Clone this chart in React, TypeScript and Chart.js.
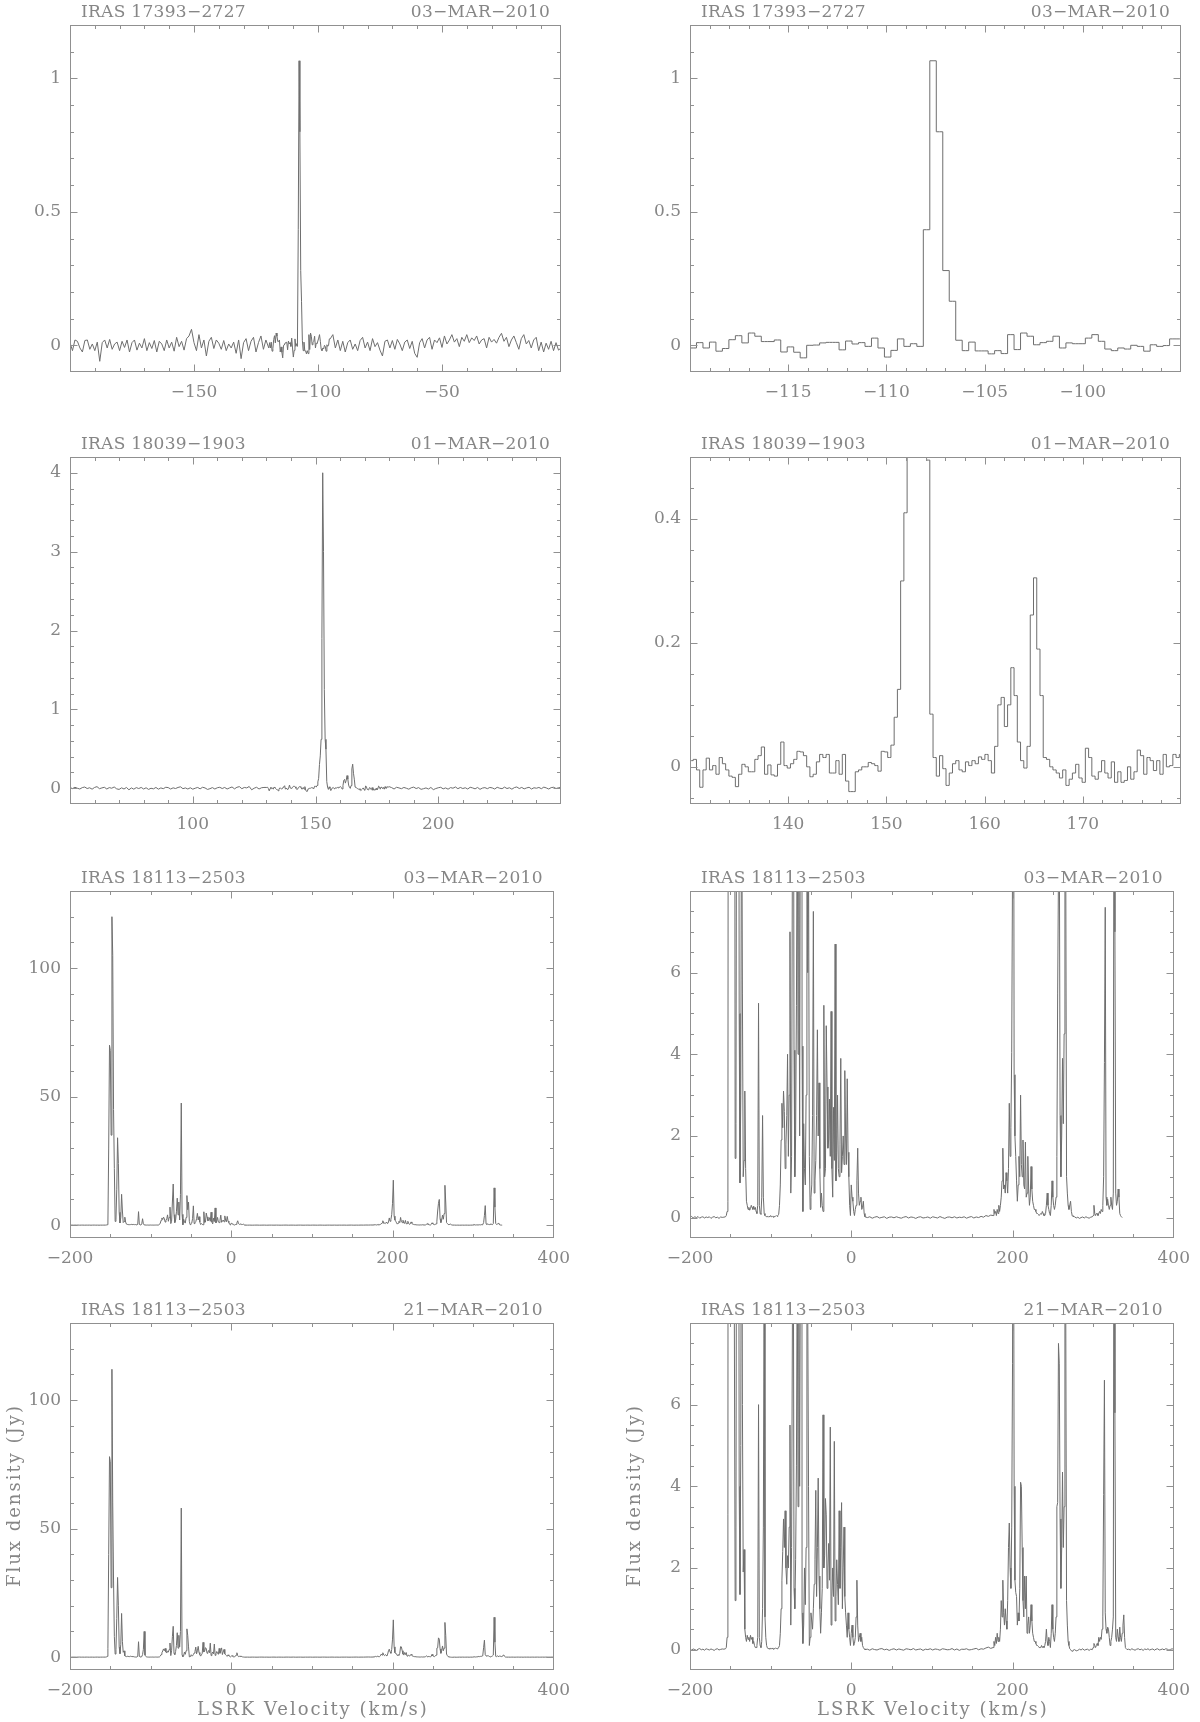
import React, { useEffect, useRef } from 'react';
import { Chart, registerables } from 'chart.js';

Chart.register(...registerables);

// ---------------- styles ----------------
const LINE_COLOR = '#6e6e6e';
const AXIS_COLOR = '#909090';
const TEXT_COLOR = '#868686';
const FONT_FAMILY = "'DejaVu Serif', serif";

// ---------------- data ----------------
// Row 1: IRAS 17393-2727, 03-MAR-2010  (flux density in Jy)
const R1_LO_START = -200; // 1 km/s step
const R1_LO = [
  0.01, -0.02, 0.02, 0.015, -0.01, -0.025, 0.018, 0.02, -0.015, 0.005,
  -0.02, 0.012, -0.06, 0.01, 0.02, -0.01, 0.022, -0.015, 0.005, 0.012,
  -0.02, 0.015, -0.008, 0.02, -0.025, 0.01, 0.02, -0.018, 0.008, -0.01,
  0.025, -0.02, 0.01, -0.012, 0.018, -0.025, 0.015, 0.005, -0.02, 0.02,
  -0.01, 0.012, -0.022, 0.03, -0.005, 0.015, -0.018, 0.025, 0.035, 0.06,
  0.01, -0.02, 0.04, -0.01, 0.02, -0.04, 0.015, 0.03, -0.012, 0.02,
  0.008, -0.015, 0.018, -0.02, 0.005, -0.01, 0.012, -0.03, 0.02, -0.05,
  0.01, 0.025, -0.02, 0.015, 0.03, -0.025, 0.01, 0.035, -0.015, 0.02,
];
const R1_MID_START = -119.835; // 0.33 km/s channels
const R1_MID_STEP = 0.33;
const R1_MID = [
  -0.01, 0.01, -0.01, 0.012, -0.022, -0.012, 0.021, 0.036, 0.009, 0.046,
  0.034, 0.014, 0.014, 0.02, -0.025, -0.006, -0.026, -0.047, 0.0, 0.001,
  0.009, 0.011, 0.011, -0.017, 0.016, 0.005, 0.01, -0.004, 0.027, -0.01,
  -0.044, -0.019, 0.024, -0.004, 0.006, -0.004, 0.433, 1.066, 0.8, 0.28,
  0.165, 0.019, -0.02, 0.012, -0.021, -0.021, -0.032, -0.02, -0.031, 0.04,
  -0.016, 0.046, 0.034, 0.002, 0.01, 0.015, 0.034, -0.01, 0.009, 0.006,
  0.006, 0.027, 0.04, 0.015, -0.014, -0.02, -0.01, -0.014, 0.0, -0.004,
  -0.022, 0.002, -0.004, -0.001, 0.024, 0.024,
];
const R1_HI_START = -94; // 1 km/s step
const R1_HI = [
  0.04, -0.01, 0.02, -0.02, 0.015, -0.025, 0.01, 0.02, -0.015, 0.005,
  -0.02, 0.018, 0.03, -0.01, 0.012, -0.02, 0.025, -0.005, 0.01, -0.018,
  -0.04, 0.015, 0.02, -0.01, 0.018, -0.015, 0.022, 0.005, -0.02, 0.012,
  0.02, -0.012, 0.015, -0.03, -0.045, 0.01, 0.025, -0.01, 0.02, 0.03,
  -0.015, 0.02, 0.01, 0.028, -0.008, 0.035, 0.005, 0.02, 0.04, 0.012,
  0.025, -0.005, 0.03, 0.015, 0.04, 0.01, 0.028, 0.018, 0.035, 0.005,
  0.02, 0.025, -0.01, 0.03, 0.012, 0.022, 0.008, 0.03, 0.045, 0.015,
  0.03, -0.005, 0.02, 0.035, 0.01, -0.015, 0.025, 0.04, 0.005, 0.018,
  -0.01, 0.02, 0.03, -0.02, 0.012, -0.025, 0.008, -0.015, 0.015, -0.02,
  0.01, -0.018, -0.01, 0.025,
];

// Row 2: IRAS 18039-1903, 01-MAR-2010
const R2_LO_START = 50; // 1 km/s step
const R2_LO = [
  0.01, -0.005, 0.012, 0.0, -0.01, 0.008, 0.015, -0.004, 0.006, -0.012,
  0.01, 0.02, -0.006, 0.004, 0.012, -0.01, 0.008, 0.0, 0.016, -0.008,
  -0.015, 0.005, -0.01, 0.01, -0.02, 0.004, -0.012, 0.008, -0.004, 0.01,
  -0.01, 0.006, -0.015, 0.0, -0.008, 0.01, -0.012, 0.004, -0.006, 0.012,
  0.008, -0.01, 0.005, -0.004, 0.01, 0.018, -0.006, 0.004, -0.01, 0.006,
  -0.012, 0.0, 0.01, -0.008, 0.012, 0.004, -0.015, -0.006, 0.008, -0.01,
  0.006, 0.012, -0.004, 0.01, -0.01, 0.004, 0.016, -0.008, 0.012, 0.02,
  -0.006, 0.01, 0.004, 0.022, -0.02, 0.0, 0.012, -0.01, 0.006, 0.01,
];
const R2_MID_START = 130.165; // 0.33 km/s channels
const R2_MID_STEP = 0.33;
const R2_MID = [
  0.01, 0.012, -0.005, -0.033, -0.005, 0.014, -0.005, 0.002, -0.012, 0.015,
  0.005, -0.005, -0.015, -0.017, -0.032, -0.012, 0.004, 0.0, -0.008, -0.008,
  0.012, 0.018, 0.032, -0.012, 0.003, -0.013, -0.015, 0.004, 0.04, 0.002,
  -0.002, 0.005, 0.012, 0.025, 0.024, 0.018, 0.0, -0.016, -0.012, 0.008,
  0.02, 0.015, 0.02, -0.01, -0.01, 0.01, -0.012, 0.02, -0.023, -0.04,
  -0.04, -0.008, -0.005, 0.0, 0.0, 0.007, 0.005, 0.002, -0.007, 0.025,
  0.024, 0.015, 0.035, 0.08, 0.125, 0.3, 0.41, 0.62, 1.9, 4.0,
  3.0, 1.25, 0.62, 0.495, 0.085, 0.015, -0.015, 0.018, -0.003, -0.03,
  -0.01, 0.005, 0.01, -0.005, -0.008, 0.008, 0.002, 0.01, 0.005, 0.016,
  0.012, 0.02, 0.01, -0.01, 0.033, 0.1, 0.112, 0.065, 0.1, 0.16,
  0.115, 0.04, 0.01, -0.002, 0.033, 0.245, 0.305, 0.19, 0.115, 0.015,
  0.012, 0.0, -0.005, -0.01, -0.018, -0.005, -0.03, -0.02, -0.01, 0.004,
  -0.018, -0.025, 0.03, 0.015, -0.015, -0.02, -0.008, 0.01, -0.01, -0.018,
  0.008, -0.025, -0.008, -0.025, -0.022, 0.0, -0.02, -0.008, 0.027, 0.018,
  -0.012, 0.015, 0.01, -0.006, 0.01, -0.012, 0.02, 0.0, 0.002, 0.02,
  0.015, 0.02,
];
const R2_HI_START = 181; // 1 km/s step
const R2_HI = [
  0.008, -0.01, 0.012, 0.004, -0.006, 0.01, 0.0, -0.012, 0.006, 0.014,
  -0.004, 0.008, -0.014, -0.006, 0.004, -0.01, 0.01, -0.018, -0.004, 0.006,
  0.012, -0.008, 0.004, -0.012, 0.008, 0.0, 0.016, -0.006, 0.01, -0.004,
  0.006, -0.01, 0.012, 0.004, -0.008, 0.01, -0.014, 0.002, 0.008, -0.006,
  0.01, 0.004, -0.01, 0.012, 0.0, -0.006, 0.014, -0.004, 0.006, -0.012,
  0.008, 0.016, -0.004, 0.01, -0.008, 0.004, 0.012, -0.01, 0.006, 0.0,
  0.01, -0.006, 0.014, 0.004, -0.01, 0.008, 0.012, -0.004, 0.006, 0.01,
];

// Row 3: IRAS 18113-2503, 03-MAR-2010
const R3_A = [ // -200 .. -158, step 2
  0.01, 0.03, -0.01, 0.02, 0.0, 0.025, -0.015, 0.01, 0.02, -0.01,
  0.015, 0.0, 0.02, -0.02, 0.01, 0.025, -0.005, 0.01, -0.02, 0.015,
  0.005, 0.01,
];
const R3_B = [ // -156 .. 17, step 1
  0.02, 0.05, 0.15, 0.4, 30, 70, 68, 35, 120, 105,
  45, 22, 1.45, 2.3, 14, 34, 24, 5, 0.85, 3,
  12, 5.5, 1.0, 1.4, 3.1, 1.2, 0.4, 0.3, 0.2, 0.25,
  0.18, 0.22, 0.3, 0.25, 0.2, 0.28, 0.2, 0.25, 0.15, 0.1,
  0.3, 5.25, 0.3, 0.1, 0.08, 0.5, 2.5, 0.5, 0.1, 0.05,
  0.03, 0.02, 0.04, 0.01, 0.03, 0.02, 0.05, 0.02, 0.03, 0.01,
  0.04, 0.02, 0.03, 0.05, 0.03, 0.06, 0.08, 0.3, 0.8, 1.9,
  2.8, 2.2, 3.1, 2.6, 1.2, 1.8, 2.5, 4.0, 1.5, 3.0,
  7.0, 0.6, 1.5, 9, 16, 4.1, 1.0, 2.0, 5.2, 10.5,
  4, 9, 2, 12, 47.5, 4.2, 0.15, 2.3, 1.2, 0.8,
  3, 11.5, 6, 9, 1.5, 0.2, 0.5, 0.8, 2.5, 7.5,
  0.6, 0.9, 1.4, 2.5, 4.6, 2.0, 3.3, 1.2, 0.25, 0.6,
  0.3, 0.15, 5.2, 1.0, 1.2, 4.7, 3.2, 1.7, 1.9, 2.9,
  1.5, 5.05, 1.2, 0.5, 2.7, 1.4, 6.7, 0.9, 1.6, 3.0,
  1.2, 1.0, 1.8, 3.9, 1.1, 1.5, 2.0, 1.3, 3.6, 2.0,
  1.3, 3.4, 1.6, 1.0, 0.3, 0.05, 0.8, 0.5, 0.4, 0.15,
  0.05, 0.2, 0.3, 0.9, 1.7, 0.6, 0.3, 0.4, 0.5, 0.2,
  0.25, 0.4, 0.1, 0.02,
];
const R3_C = [ // 20 .. 173, step 3
  0.0, 0.02, -0.015, 0.01, 0.025, -0.01, 0.005, 0.02, -0.02, 0.01,
  0.015, -0.005, 0.02, 0.0, -0.015, 0.01, 0.025, -0.01, 0.015, 0.005,
  -0.02, 0.01, 0.02, -0.01, 0.0, 0.015, -0.015, 0.02, 0.005, -0.01,
  0.025, 0.0, -0.02, 0.01, 0.015, -0.005, 0.02, -0.01, 0.01, 0.0,
  0.02, -0.015, 0.01, 0.025, -0.01, 0.015, 0.0, 0.03, 0.01, 0.05,
  0.03, 0.06,
];
const R3_D = [ // 176 .. 275, step 1
  0.05, 0.2, 0.1, 0.15, 0.05, 0.2, 0.1, 0.3, 0.15, 0.3,
  0.5, 0.9, 1.7, 0.7, 0.8, 0.6, 1.1, 0.9, 0.6, 1.2,
  2.8, 1.5, 2.2, 4.05, 8.5, 17.5, 3.5, 2.0, 1.5, 0.9,
  0.4, 0.8, 1.5, 1.0, 3.0, 1.3, 1.0, 1.9, 0.8, 0.7,
  1.85, 0.5, 0.6, 1.5, 0.7, 0.3, 0.5, 1.25, 0.7, 0.4,
  0.3, 0.2, 0.2, 0.15, 0.1, 0.1, 0.08, 0.05, 0.05, 0.1,
  0.08, 0.15, 0.1, 0.05, 0.05, 0.1, 0.3, 0.6, 0.3, 0.2,
  0.1, 0.05, 0.3, 0.9, 0.5, 0.3, 0.2, 0.3, 0.5, 1.5,
  5.5, 8.5, 10, 2.5, 1.0, 2.0, 3.9, 2.3, 4.5, 15.5,
  9, 1.0, 0.6, 0.3, 0.2, 0.3, 0.4, 0.15, 0.05, 0.03,
];
const R3_E = [ // 277 .. 297, step 2
  0.02, -0.01, 0.01, -0.02, 0.0, 0.015, -0.01, 0.02, 0.0, -0.015, 0.01,
];
const R3_F = [ // 299 .. 336, step 1
  0.02, 0.05, 0.3, 0.1, 0.05, 0.1, 0.1, 0.05, 0.1, 0.15,
  0.1, 0.2, 0.15, 0.3, 1.0, 3.8, 7.6, 0.5, 0.3, 0.45,
  0.3, 0.2, 0.3, 0.5, 0.3, 0.2, 0.6, 14.5, 7.0, 0.6,
  0.3, 0.4, 0.7, 0.5, 0.1, 0.05, 0.02, 0.0,
];

// Row 4: IRAS 18113-2503, 21-MAR-2010
const R4_A = [ // -200 .. -158, step 2
  0.02, -0.01, 0.015, 0.0, -0.02, 0.01, 0.025, -0.005, 0.01, -0.015,
  0.02, 0.005, -0.01, 0.015, 0.0, -0.02, 0.01, 0.02, -0.01, 0.005,
  0.015, 0.01,
];
const R4_B = [ // -156 .. 17, step 1
  0.02, 0.05, 0.3, 3.3, 40, 78, 76, 27, 112, 60,
  30, 8, 1.2, 3, 15, 31, 20, 4, 1.35, 5,
  17, 6, 1.9, 2.45, 0.5, 0.3, 0.2, 0.35, 0.25, 0.3,
  0.2, 0.35, 0.25, 0.3, 0.15, 0.2, 0.1, 0.05, 0.05, 0.1,
  0.3, 6.0, 0.3, 0.1, 0.05, 0.2, 1.0, 3, 10, 0.8,
  0.3, 0.1, 0.04, 0.02, 0.03, 0.01, 0.03, 0.02, 0.04, 0.01,
  0.03, 0.02, 0.04, 0.03, 0.02, 0.04, 0.05, 0.1, 0.4, 1.0,
  1.7, 2.4, 3.2, 2.5, 3.4, 2.0, 1.6, 2.3, 2.0, 3.0,
  5.5, 0.6, 2.5, 8, 12, 1.5, 1.0, 2.2, 4.5, 9.5,
  3.5, 8.5, 4, 10, 58, 0.9, 0.15, 0.6, 2.0, 1.1,
  2.5, 11, 8.5, 4, 0.1, 0.3, 0.9, 0.7, 0.5, 1.0,
  1.6, 2.2, 3.9, 1.3, 2.5, 4.2, 1.8, 1.0, 0.4, 0.9,
  1.5, 5.75, 2.0, 2.3, 3.7, 3.3, 1.5, 2.0, 2.6, 1.7,
  5.45, 0.6, 1.3, 2.0, 1.3, 5.1, 0.7, 1.3, 2.2, 1.6,
  1.1, 3.4, 1.5, 2.5, 3.6, 1.0, 2.0, 3.0, 1.3, 0.9,
  0.6, 0.3, 0.9, 0.5, 0.3, 0.1, 0.4, 0.6, 0.3, 0.1,
  0.15, 0.3, 0.8, 1.7, 0.6, 0.2, 0.3, 0.4, 0.2, 0.3,
  0.1, 0.05, 0.02, 0.0,
];
const R4_C = [ // 20 .. 173, step 3
  0.01, -0.015, 0.02, 0.0, -0.01, 0.015, 0.025, -0.005, 0.01, -0.02,
  0.005, 0.02, -0.01, 0.015, 0.0, -0.015, 0.02, 0.01, -0.005, 0.025,
  -0.01, 0.005, 0.015, -0.02, 0.01, 0.0, 0.02, -0.01, 0.015, 0.005,
  -0.015, 0.02, 0.01, -0.005, 0.0, 0.025, -0.01, 0.015, -0.02, 0.01,
  0.005, 0.02, -0.01, 0.0, 0.015, 0.03, -0.005, 0.02, 0.01, 0.04,
  0.06, 0.03,
];
const R4_D = [ // 176 .. 275, step 1
  0.05, 0.2, 0.1, 0.3, 0.15, 0.4, 0.2, 0.3, 0.2, 0.5,
  1.2, 0.8, 1.7, 0.9, 0.6, 1.0, 0.7, 0.5, 1.2, 2.5,
  3.1, 2.0, 1.5, 3.0, 7, 14.5, 4, 1.7, 1.4, 1.3,
  0.6, 0.9, 0.7, 1.5, 4.1, 4, 2.5, 1.2, 0.8, 1.8,
  1.0, 1.8, 0.4, 0.6, 0.8, 0.4, 0.6, 1.1, 0.7, 0.4,
  0.3, 0.2, 0.2, 0.15, 0.1, 0.1, 0.08, 0.05, 0.05, 0.05,
  0.1, 0.05, 0.08, 0.05, 0.1, 0.2, 0.5, 0.2, 0.1, 0.3,
  0.2, 0.05, 0.4, 1.1, 0.5, 0.3, 0.2, 0.4, 0.8, 3.5,
  3.6, 7.5, 7.0, 3.2, 1.5, 2.5, 4.35, 2.5, 3.5, 13.5,
  8.5, 1.2, 0.6, 0.2, 0.1, 0.02, 0.0, -0.03, -0.04, -0.02,
];
const R4_E = [ // 277 .. 297, step 2
  0.0, -0.03, -0.02, 0.01, -0.01, 0.02, -0.015, 0.0, 0.01, -0.02, 0.01,
];
const R4_F = [ // 299 .. 342, step 1
  0.0, 0.05, 0.15, 0.1, 0.05, 0.1, 0.15, 0.1, 0.3, 0.2,
  0.3, 0.25, 0.5, 0.8, 3.8, 6.6, 0.9, 0.5, 0.4, 0.55,
  0.5, 0.3, 0.1, 0.2, 0.3, 0.5, 0.8, 15.5, 5.8, 0.3,
  0.2, 0.5, 0.3, 0.2, 0.55, 0.3, 0.2, 0.4, 0.6, 0.85,
  0.3, 0.05, 0.02, 0.0,
];
const R4_G = [ // 344 .. 400, step 2
  0.01, -0.01, 0.02, 0.0, -0.015, 0.01, 0.02, -0.005, 0.01, -0.02,
  0.015, 0.0, 0.02, -0.01, 0.005, 0.015, -0.015, 0.01, 0.02, -0.01,
  0.0, 0.015, -0.005, 0.02, 0.01, -0.015, 0.005, 0.02, 0.0,
];

// ---------------- tick labels ----------------
const X_LABELS_R1_WIDE = [-150, -100, -50];
const X_LABELS_R1_ZOOM = [-115, -110, -105, -100];
const X_LABELS_R2_WIDE = [100, 150, 200];
const X_LABELS_R2_ZOOM = [140, 150, 160, 170];
const X_LABELS_R34 = [-200, 0, 200, 400];
const Y_LABELS_R1 = [0, 0.5, 1];
const Y_LABELS_R2_WIDE = [0, 1, 2, 3, 4];
const Y_LABELS_R2_ZOOM = [0, 0.2, 0.4];
const Y_LABELS_R34_WIDE = [0, 50, 100];
const Y_LABELS_R34_ZOOM = [0, 2, 4, 6];

const X_TITLE = 'LSRK Velocity (km/s)';
const Y_TITLE = 'Flux density (Jy)';

// ---------------- helpers ----------------
type Seg = [number, number, number[]]; // start velocity, channel step, fluxes
type Pt = { x: number; y: number };

function toPoints(segs: Seg[]): Pt[] {
  const pts: Pt[] = [];
  for (const [v0, dv, ys] of segs) {
    ys.forEach((y, i) => pts.push({ x: Math.round((v0 + i * dv) * 1000) / 1000, y }));
  }
  pts.sort((a, b) => a.x - b.x);
  return pts;
}

const ROW1 = toPoints([
  [R1_LO_START, 1, R1_LO],
  [R1_MID_START, R1_MID_STEP, R1_MID],
  [R1_HI_START, 1, R1_HI],
]);
const ROW2 = toPoints([
  [R2_LO_START, 1, R2_LO],
  [R2_MID_START, R2_MID_STEP, R2_MID],
  [R2_HI_START, 1, R2_HI],
]);
const ROW3 = toPoints([
  [-200, 2, R3_A], [-156, 1, R3_B], [20, 3, R3_C], [176, 1, R3_D], [277, 2, R3_E], [299, 1, R3_F],
]);
const ROW4 = toPoints([
  [-200, 2, R4_A], [-156, 1, R4_B], [20, 3, R4_C], [176, 1, R4_D], [277, 2, R4_E], [299, 1, R4_F], [344, 2, R4_G],
]);

function fmt(v: number): string {
  const s = String(Math.round(v * 1000) / 1000);
  return s.replace('-', '\u2212');
}

function tickMarks(min: number, max: number, major: number, minor: number): [number, boolean][] {
  const out: [number, boolean][] = [];
  const k0 = Math.ceil(min / minor - 1e-6);
  const k1 = Math.floor(max / minor + 1e-6);
  for (let k = k0; k <= k1; k++) {
    const v = k * minor;
    const r = v / major;
    out.push([v, Math.abs(r - Math.round(r)) < 1e-6]);
  }
  return out;
}

// ---------------- layout ----------------
const CANVAS_W = 580;
const CANVAS_H = 424;
const COL_LEFTS = [0, 620];
const ROW_TOPS = [0, 432, 866, 1298];
const AXIS_W = 70;
const AXIS_H = 52;
const PAD_TOP = 25;
const PAD_RIGHT = 19;

type PanelDef = {
  row: number; col: number; name: string; date: string; data: Pt[]; stepped: boolean;
  x: [number, number]; xLabels: number[]; xMajor: number; xMinor: number;
  y: [number, number]; yLabels: number[]; yMajor: number; yMinor: number;
  axisTitles: boolean;
};

const NAME_1 = 'IRAS 17393\u22122727';
const NAME_2 = 'IRAS 18039\u22121903';
const NAME_3 = 'IRAS 18113\u22122503';
const DATE_1 = '03\u2212MAR\u22122010';
const DATE_2 = '01\u2212MAR\u22122010';
const DATE_4 = '21\u2212MAR\u22122010';

const PANELS: PanelDef[] = [
  { row: 0, col: 0, name: NAME_1, date: DATE_1, data: ROW1, stepped: false,
    x: [-200, -2], xLabels: X_LABELS_R1_WIDE, xMajor: 50, xMinor: 10,
    y: [-0.1, 1.2], yLabels: Y_LABELS_R1, yMajor: 0.5, yMinor: 0.1, axisTitles: false },
  { row: 0, col: 1, name: NAME_1, date: DATE_1, data: ROW1, stepped: true,
    x: [-120, -95], xLabels: X_LABELS_R1_ZOOM, xMajor: 5, xMinor: 1,
    y: [-0.1, 1.2], yLabels: Y_LABELS_R1, yMajor: 0.5, yMinor: 0.1, axisTitles: false },
  { row: 1, col: 0, name: NAME_2, date: DATE_2, data: ROW2, stepped: false,
    x: [50, 250], xLabels: X_LABELS_R2_WIDE, xMajor: 50, xMinor: 10,
    y: [-0.2, 4.2], yLabels: Y_LABELS_R2_WIDE, yMajor: 1, yMinor: 0.2, axisTitles: false },
  { row: 1, col: 1, name: NAME_2, date: DATE_2, data: ROW2, stepped: true,
    x: [130, 180], xLabels: X_LABELS_R2_ZOOM, xMajor: 10, xMinor: 2,
    y: [-0.06, 0.5], yLabels: Y_LABELS_R2_ZOOM, yMajor: 0.2, yMinor: 0.05, axisTitles: false },
  { row: 2, col: 0, name: NAME_3, date: DATE_1, data: ROW3, stepped: false,
    x: [-200, 400], xLabels: X_LABELS_R34, xMajor: 200, xMinor: 50,
    y: [-5, 130], yLabels: Y_LABELS_R34_WIDE, yMajor: 50, yMinor: 10, axisTitles: false },
  { row: 2, col: 1, name: NAME_3, date: DATE_1, data: ROW3, stepped: false,
    x: [-200, 400], xLabels: X_LABELS_R34, xMajor: 200, xMinor: 50,
    y: [-0.5, 8], yLabels: Y_LABELS_R34_ZOOM, yMajor: 2, yMinor: 0.5, axisTitles: false },
  { row: 3, col: 0, name: NAME_3, date: DATE_4, data: ROW4, stepped: false,
    x: [-200, 400], xLabels: X_LABELS_R34, xMajor: 200, xMinor: 50,
    y: [-5, 130], yLabels: Y_LABELS_R34_WIDE, yMajor: 50, yMinor: 10, axisTitles: true },
  { row: 3, col: 1, name: NAME_3, date: DATE_4, data: ROW4, stepped: false,
    x: [-200, 400], xLabels: X_LABELS_R34, xMajor: 200, xMinor: 50,
    y: [-0.5, 8], yLabels: Y_LABELS_R34_ZOOM, yMajor: 2, yMinor: 0.5, axisTitles: true },
];

// ---------------- frame plugin (box, inward ticks, header and axis texts) ----------------
const framePlugin = {
  id: 'frame',
  afterDraw(chart: any) {
    const o = chart.options.plugins.frame;
    if (!o) return;
    const { ctx, chartArea: a } = chart;
    const xs = chart.scales.x;
    const ys = chart.scales.y;
    const L = Math.round(a.left) + 0.5;
    const R = Math.round(a.right) - 0.5;
    const T = Math.round(a.top) + 0.5;
    const B = Math.round(a.bottom) - 0.5;
    ctx.save();
    ctx.strokeStyle = AXIS_COLOR;
    ctx.lineWidth = 1;
    ctx.strokeRect(L, T, R - L, B - T);
    ctx.beginPath();
    for (const [v, major] of tickMarks(xs.min, xs.max, o.xMajor, o.xMinor)) {
      const px = Math.round(xs.getPixelForValue(v)) + 0.5;
      if (px <= L + 1 || px >= R - 1) continue;
      const len = major ? 7 : 3.5;
      ctx.moveTo(px, B); ctx.lineTo(px, B - len);
      ctx.moveTo(px, T); ctx.lineTo(px, T + len);
    }
    for (const [v, major] of tickMarks(ys.min, ys.max, o.yMajor, o.yMinor)) {
      const py = Math.round(ys.getPixelForValue(v)) + 0.5;
      if (py <= T + 1 || py >= B - 1) continue;
      const len = major ? 7 : 3.5;
      ctx.moveTo(L, py); ctx.lineTo(L + len, py);
      ctx.moveTo(R, py); ctx.lineTo(R - len, py);
    }
    ctx.stroke();

    ctx.fillStyle = TEXT_COLOR;
    ctx.font = `17px ${FONT_FAMILY}`;
    ctx.textBaseline = 'middle';
    try { (ctx as any).letterSpacing = '0.3px'; } catch (e) { /* ignore */ }
    ctx.textAlign = 'left';
    ctx.fillText(o.name, a.left + 11, a.top - 12.5);
    ctx.textAlign = 'right';
    ctx.fillText(o.date, a.right - 11, a.top - 12.5);

    if (o.axisTitles) {
      ctx.font = `18px ${FONT_FAMILY}`;
      try { (ctx as any).letterSpacing = '2px'; } catch (e) { /* ignore */ }
      ctx.textAlign = 'center';
      ctx.fillText(X_TITLE, (a.left + a.right) / 2 + 1, a.bottom + 40);
      ctx.save();
      ctx.translate(a.left - 55, (a.top + a.bottom) / 2);
      ctx.rotate(-Math.PI / 2);
      ctx.fillText(Y_TITLE, 1, 0);
      ctx.restore();
    }
    ctx.restore();
  },
};

function buildConfig(p: PanelDef): any {
  const tickFont = { family: FONT_FAMILY, size: 17 };
  return {
    type: 'line',
    data: {
      datasets: [{
        data: p.data,
        borderColor: LINE_COLOR,
        borderWidth: 1,
        pointRadius: 0,
        fill: false,
        tension: 0,
        stepped: p.stepped ? 'middle' : false,
      }],
    },
    options: {
      animation: false,
      responsive: false,
      maintainAspectRatio: false,
      devicePixelRatio: 1,
      events: [],
      layout: { padding: { top: PAD_TOP, right: PAD_RIGHT, left: 0, bottom: 0 }, autoPadding: false },
      plugins: {
        legend: { display: false },
        tooltip: { enabled: false },
        title: { display: false },
        frame: {
          name: p.name, date: p.date, axisTitles: p.axisTitles,
          xMajor: p.xMajor, xMinor: p.xMinor, yMajor: p.yMajor, yMinor: p.yMinor,
        },
      },
      scales: {
        x: {
          type: 'linear',
          min: p.x[0],
          max: p.x[1],
          afterBuildTicks: (s: any) => { s.ticks = p.xLabels.map((v) => ({ value: v })); },
          afterFit: (s: any) => { s.height = AXIS_H; },
          grid: { display: false, drawTicks: false },
          border: { display: false },
          ticks: { autoSkip: false, maxRotation: 0, minRotation: 0, padding: 10, color: TEXT_COLOR, font: tickFont, callback: (v: number) => fmt(v) },
        },
        y: {
          type: 'linear',
          min: p.y[0],
          max: p.y[1],
          afterBuildTicks: (s: any) => { s.ticks = p.yLabels.map((v) => ({ value: v })); },
          afterFit: (s: any) => { s.width = AXIS_W; },
          grid: { display: false, drawTicks: false },
          border: { display: false },
          ticks: { autoSkip: false, padding: 9, color: TEXT_COLOR, font: tickFont, callback: (v: number) => fmt(v) },
        },
      },
    },
    plugins: [framePlugin],
  };
}

function SpectrumPanel({ panel }: { panel: PanelDef }) {
  const ref = useRef<HTMLCanvasElement>(null);
  useEffect(() => {
    if (!ref.current) return;
    const chart = new Chart(ref.current, buildConfig(panel));
    return () => chart.destroy();
  }, [panel]);
  return (
    <canvas
      ref={ref}
      width={CANVAS_W}
      height={CANVAS_H}
      style={{ position: 'absolute', left: COL_LEFTS[panel.col], top: ROW_TOPS[panel.row], width: CANVAS_W, height: CANVAS_H }}
    />
  );
}

export default function App() {
  return (
    <div style={{ position: 'absolute', left: 0, top: 0, width: 1200, height: 1722, background: '#ffffff', overflow: 'hidden' }}>
      {PANELS.map((p, i) => (
        <SpectrumPanel key={i} panel={p} />
      ))}
    </div>
  );
}
